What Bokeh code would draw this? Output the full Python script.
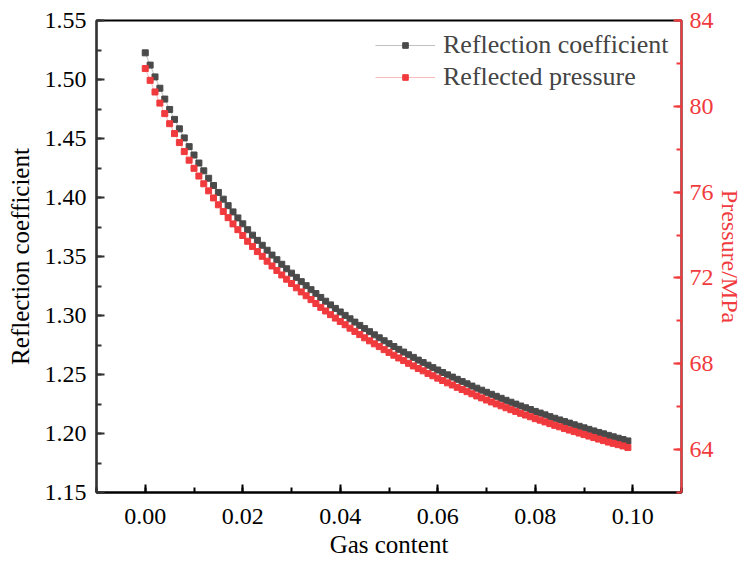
from bokeh.plotting import figure
from bokeh.models import (Range1d, LinearAxis, SingleIntervalTicker, PrintfTickFormatter,
                          Legend, LegendItem)
from bokeh.embed import file_html
from bokeh.resources import INLINE

gas_content = [i / 1000 for i in range(100)]

reflection_coefficient = [
    1.5226, 1.5122, 1.5022, 1.4926, 1.4834, 1.4746, 1.4662, 1.4582, 1.4505, 1.4431,
    1.4360, 1.4292, 1.4226, 1.4163, 1.4102, 1.4043, 1.3986, 1.3931, 1.3878, 1.3827,
    1.3777, 1.3727, 1.3681, 1.3637, 1.3595, 1.3553, 1.3512, 1.3473, 1.3434, 1.3396,
    1.3359, 1.3323, 1.3287, 1.3253, 1.3219, 1.3186, 1.3153, 1.3121, 1.3090, 1.3060,
    1.3030, 1.3001, 1.2972, 1.2944, 1.2916, 1.2889, 1.2863, 1.2836, 1.2811, 1.2786,
    1.2761, 1.2737, 1.2713, 1.2690, 1.2667, 1.2645, 1.2622, 1.2601, 1.2579, 1.2558,
    1.2538, 1.2517, 1.2497, 1.2478, 1.2459, 1.2440, 1.2421, 1.2402, 1.2384, 1.2367,
    1.2349, 1.2332, 1.2315, 1.2298, 1.2281, 1.2265, 1.2249, 1.2233, 1.2218, 1.2203,
    1.2187, 1.2173, 1.2158, 1.2143, 1.2129, 1.2115, 1.2101, 1.2088, 1.2074, 1.2061,
    1.2048, 1.2035, 1.2022, 1.2009, 1.1997, 1.1984, 1.1972, 1.1960, 1.1949, 1.1937,
]

reflected_pressure = [
    81.76, 81.21, 80.67, 80.15, 79.66, 79.19, 78.73, 78.31, 77.89, 77.49,
    77.11, 76.75, 76.39, 76.06, 75.73, 75.41, 75.10, 74.81, 74.52, 74.25,
    73.98, 73.71, 73.47, 73.23, 73.01, 72.78, 72.56, 72.35, 72.14, 71.94,
    71.74, 71.54, 71.35, 71.17, 70.99, 70.81, 70.63, 70.46, 70.29, 70.13,
    69.97, 69.82, 69.66, 69.51, 69.36, 69.21, 69.07, 68.93, 68.80, 68.66,
    68.53, 68.40, 68.27, 68.15, 68.02, 67.90, 67.78, 67.67, 67.55, 67.44,
    67.33, 67.22, 67.11, 67.01, 66.90, 66.80, 66.70, 66.60, 66.50, 66.41,
    66.31, 66.22, 66.13, 66.04, 65.95, 65.86, 65.78, 65.69, 65.61, 65.53,
    65.44, 65.37, 65.29, 65.21, 65.13, 65.06, 64.98, 64.91, 64.84, 64.77,
    64.70, 64.63, 64.56, 64.49, 64.42, 64.35, 64.29, 64.23, 64.17, 64.10,
]

series_names = ["Reflection coefficient", "Reflected pressure"]
x_label = "Gas content"
y_label = "Reflection coefficient"
y2_label = "Pressure/MPa"

BLACK = "#4a4a4a"
RED = "#f03a3d"
FONT = "Liberation Serif"

p = figure(width=745, height=561, output_backend="svg", toolbar_location=None,
           x_range=Range1d(-0.01, 0.11), y_range=Range1d(1.15, 1.55),
           min_border_left=96, min_border_right=64, min_border_top=20, min_border_bottom=69)
p.extra_y_ranges = {"pressure": Range1d(62, 84)}
p.grid.visible = False
p.outline_line_color = "black"
p.outline_line_width = 2
p.background_fill_color = "white"
p.border_fill_color = "white"

l1 = p.line(gas_content, reflection_coefficient, line_color=BLACK, line_alpha=0.35, line_width=1)
s1 = p.scatter(gas_content, reflection_coefficient, marker="square", size=6,
               fill_color=BLACK, line_color=BLACK)
l2 = p.line(gas_content, reflected_pressure, y_range_name="pressure",
            line_color=RED, line_alpha=0.35, line_width=1)
s2 = p.scatter(gas_content, reflected_pressure, y_range_name="pressure", marker="square", size=6,
               fill_color=RED, line_color=RED)

def style_axis(ax, color, label):
    ax.axis_label = label
    ax.axis_label_text_font = FONT
    ax.axis_label_text_font_size = "25px"
    ax.axis_label_text_font_style = "normal"
    ax.axis_label_text_color = color
    ax.major_label_text_font = FONT
    ax.major_label_text_font_size = "24px"
    ax.major_label_text_color = color
    ax.axis_line_color = color
    ax.axis_line_width = 2
    ax.major_tick_line_color = color
    ax.minor_tick_line_color = color
    ax.major_tick_line_width = 2
    ax.minor_tick_line_width = 2
    ax.major_tick_in = 8
    ax.major_tick_out = 0
    ax.minor_tick_in = 5
    ax.minor_tick_out = 0

xa = p.xaxis[0]
style_axis(xa, "black", x_label)
xa.ticker = SingleIntervalTicker(interval=0.02, num_minor_ticks=2)
xa.formatter = PrintfTickFormatter(format="%.2f")
xa.major_label_standoff = 16
xa.axis_label_standoff = 4

ya = p.yaxis[0]
style_axis(ya, "#333333", y_label)
ya.axis_label_text_color = "black"
ya.major_label_text_color = "black"
ya.ticker = SingleIntervalTicker(interval=0.05, num_minor_ticks=2)
ya.formatter = PrintfTickFormatter(format="%.2f")
ya.major_label_standoff = 10
ya.axis_label_standoff = 8

ra = LinearAxis(y_range_name="pressure")
style_axis(ra, RED, y2_label)
ra.axis_label_text_font_size = "24px"
ra.ticker = SingleIntervalTicker(interval=4, num_minor_ticks=2)
ra.formatter = PrintfTickFormatter(format="%d")
ra.major_label_standoff = 8
ra.axis_label_standoff = 0
p.add_layout(ra, "right")

legend = Legend(items=[LegendItem(label=series_names[0], renderers=[l1, s1]),
                       LegendItem(label=series_names[1], renderers=[l2, s2])],
                location=(279, 400))
legend.label_text_font = FONT
legend.label_text_font_size = "26px"
legend.border_line_color = None
legend.background_fill_alpha = 0
legend.glyph_width = 60
legend.glyph_height = 14
legend.label_height = 28
legend.spacing = 2
legend.padding = 10
legend.margin = 0
legend.label_standoff = 8
p.add_layout(legend)

open("out.html", "w").write(file_html(p, INLINE))
